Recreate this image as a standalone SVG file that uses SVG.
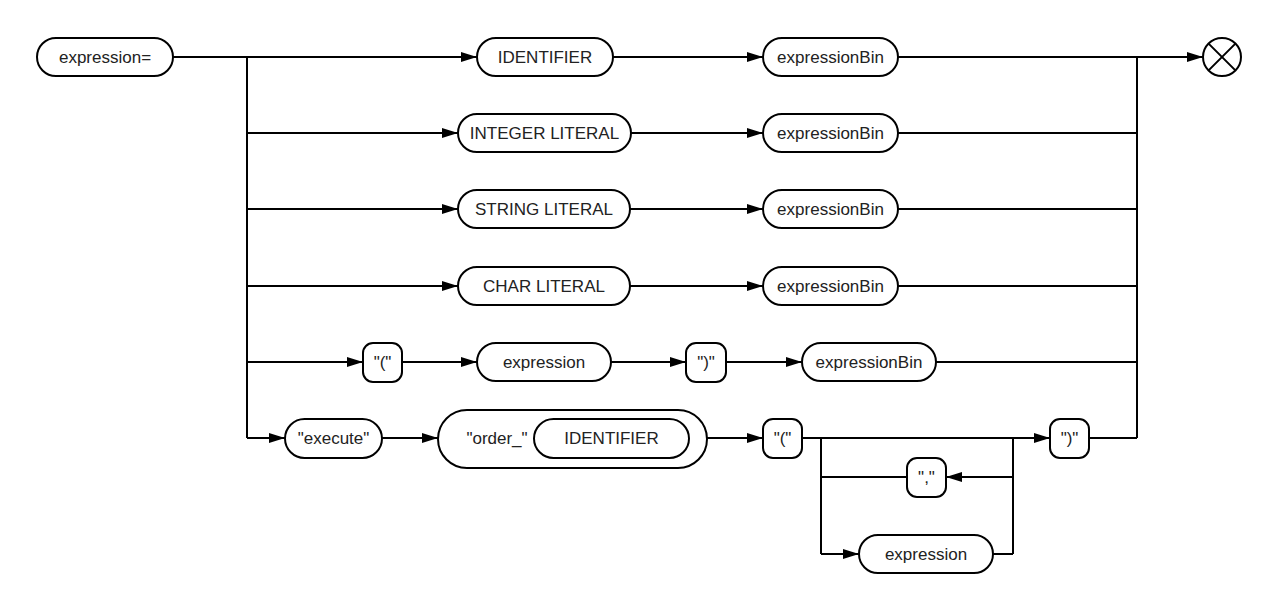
<svg xmlns="http://www.w3.org/2000/svg" width="1280" height="611" viewBox="0 0 1280 611">
<defs>
<marker id="arr" viewBox="0 0 16 10" refX="16" refY="5" markerWidth="16" markerHeight="10" markerUnits="userSpaceOnUse" orient="auto">
<path d="M0,0 L16,5 L0,10 Z" fill="#000"/>
</marker>
<style>
.n{fill:#fff;stroke:#000;stroke-width:2}
.t{font-family:"Liberation Sans",Arial,sans-serif;font-size:17px;fill:#222;text-anchor:middle}
.c path{fill:none;stroke:#000;stroke-width:2}
.a{marker-end:url(#arr)}
</style>
</defs>
<rect width="1280" height="611" fill="#fff"/>
<g class="c" id="connectors">
<path class="a" d="M173,57 H477"/>
<path d="M247,57 V438"/>
<path class="a" d="M613,57 H763"/>
<path class="a" d="M898,57 H1203"/>
<path d="M1137,57 V438"/>
<path class="a" d="M247,133 H458"/>
<path class="a" d="M631,133 H763"/>
<path d="M898,133 H1137"/>
<path class="a" d="M247,209 H458"/>
<path class="a" d="M630,209 H763"/>
<path d="M898,209 H1137"/>
<path class="a" d="M247,286 H458"/>
<path class="a" d="M630,286 H763"/>
<path d="M898,286 H1137"/>
<path class="a" d="M247,362 H363"/>
<path class="a" d="M402,362 H477"/>
<path class="a" d="M611,362 H686"/>
<path class="a" d="M726,362 H802"/>
<path d="M936,362 H1137"/>
<path class="a" d="M247,438 H285"/>
<path class="a" d="M382,438 H438"/>
<path class="a" d="M707,438 H763"/>
<path class="a" d="M802,438 H1050"/>
<path d="M1089,438 H1137"/>
<path d="M821,438 V554"/>
<path d="M1013,438 V554"/>
<path d="M821,477 H907"/>
<path class="a" d="M1013,477 H946"/>
<path class="a" d="M821,554 H859"/>
<path d="M993,554 H1013"/>
</g>
<g id="start"><rect class="n" x="37" y="38" width="136" height="38" rx="19"/><text class="t" x="105" y="63">expression=</text></g>
<g id="r1a"><rect class="n" x="477" y="38" width="136" height="38" rx="19"/><text class="t" x="545" y="63">IDENTIFIER</text></g>
<g id="r1b"><rect class="n" x="763" y="38" width="135" height="38" rx="19"/><text class="t" x="830.500" y="63">expressionBin</text></g>
<g id="end"><circle cx="1222" cy="57" r="19" fill="#fff" stroke="#000" stroke-width="2"/><path d="M1208.600,43.600 L1235.400,70.400 M1235.400,43.600 L1208.600,70.400" stroke="#000" stroke-width="2"/></g>
<g id="r2a"><rect class="n" x="458" y="114" width="173" height="38" rx="19"/><text class="t" x="544.500" y="139">INTEGER LITERAL</text></g>
<g id="r2b"><rect class="n" x="763" y="114" width="135" height="38" rx="19"/><text class="t" x="830.500" y="139">expressionBin</text></g>
<g id="r3a"><rect class="n" x="458" y="190" width="172" height="38" rx="19"/><text class="t" x="544" y="215">STRING LITERAL</text></g>
<g id="r3b"><rect class="n" x="763" y="190" width="135" height="38" rx="19"/><text class="t" x="830.500" y="215">expressionBin</text></g>
<g id="r4a"><rect class="n" x="458" y="267" width="172" height="38" rx="19"/><text class="t" x="544" y="292">CHAR LITERAL</text></g>
<g id="r4b"><rect class="n" x="763" y="267" width="135" height="38" rx="19"/><text class="t" x="830.500" y="292">expressionBin</text></g>
<g id="r5a"><rect class="n" x="363" y="343" width="39" height="39" rx="10"/><text class="t" x="382.500" y="368">"("</text></g>
<g id="r5b"><rect class="n" x="477" y="343" width="134" height="38" rx="19"/><text class="t" x="544" y="368">expression</text></g>
<g id="r5c"><rect class="n" x="686" y="343" width="40" height="39" rx="10"/><text class="t" x="706" y="368">")"</text></g>
<g id="r5d"><rect class="n" x="802" y="343" width="134" height="38" rx="19"/><text class="t" x="869" y="368">expressionBin</text></g>
<g id="r6a"><rect class="n" x="285" y="419" width="97" height="39" rx="19.500"/><text class="t" x="333.500" y="444">"execute"</text></g>
<g id="r6b"><rect class="n" x="438" y="410" width="269" height="58" rx="29"/><text class="t" x="497" y="444">"order_"</text><rect class="n" x="534" y="419" width="155" height="39" rx="19.500"/><text class="t" x="611.500" y="444">IDENTIFIER</text></g>
<g id="r6c"><rect class="n" x="763" y="419" width="39" height="39" rx="10"/><text class="t" x="782.500" y="444">"("</text></g>
<g id="r6d"><rect class="n" x="1050" y="419" width="39" height="39" rx="10"/><text class="t" x="1069.500" y="444">")"</text></g>
<g id="r6e"><rect class="n" x="907" y="458" width="39" height="39" rx="10"/><text class="t" x="926.500" y="483">","</text></g>
<g id="r6f"><rect class="n" x="859" y="535" width="134" height="38" rx="19"/><text class="t" x="926" y="560">expression</text></g>
</svg>
